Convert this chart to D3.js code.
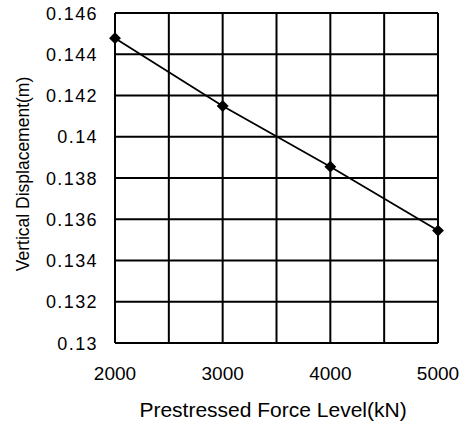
<!DOCTYPE html>
<html>
<head>
<meta charset="utf-8">
<script src="https://cdn.jsdelivr.net/npm/d3@7"></script>
<style>
  body { margin: 0; background: #fff; }
  text { font-family: "Liberation Sans", Arial, sans-serif; fill: #000; }
</style>
</head>
<body>
<div id="chart"></div>
<script>
// DATA
const forces = [2000, 3000, 4000, 5000];
const displacements = [0.14478, 0.14149, 0.13855, 0.13545];
const xTicks = [2000, 3000, 4000, 5000];
const xGrid = [2000, 2500, 3000, 3500, 4000, 4500, 5000];
const yTicks = [0.13, 0.132, 0.134, 0.136, 0.138, 0.14, 0.142, 0.144, 0.146];

function render() {
    const width  = 468;
    const height = 426;
    const margin = { top: 13, right: 30, bottom: 83, left: 115 };

    const svg = d3.select('#chart').append('svg')
        .attr('width', width)
        .attr('height', height);

    const x = d3.scaleLinear().domain([2000, 5000]).range([margin.left, width - margin.right]);
    const y = d3.scaleLinear().domain([0.13, 0.146]).range([height - margin.bottom, margin.top]);

    const grid = svg.append('g');

    grid.selectAll('line.h')
        .data(yTicks)
        .enter().append('line')
            .attr('class', 'h')
            .attr('x1', x(2000)).attr('x2', x(5000))
            .attr('y1', d => y(d)).attr('y2', d => y(d))
            .attr('stroke', '#000')
            .attr('stroke-width', 2);

    grid.selectAll('line.v')
        .data(xGrid)
        .enter().append('line')
            .attr('class', 'v')
            .attr('x1', d => x(d)).attr('x2', d => x(d))
            .attr('y1', y(0.13)).attr('y2', y(0.146))
            .attr('stroke', '#000')
            .attr('stroke-width', 2);

    // tick labels
    svg.append('g').selectAll('text')
        .data(yTicks)
        .enter().append('text')
            .attr('x', margin.left - 17)
            .attr('y', d => y(d) + 6.5)
            .attr('text-anchor', 'end')
            .style('font-size', '18px')
            .style('letter-spacing', '1.4px')
            .text(d => d3.format('')(+d.toFixed(3)));

    svg.append('g').selectAll('text')
        .data(xTicks)
        .enter().append('text')
            .attr('x', d => x(d))
            .attr('y', y(0.13) + 37)
            .attr('text-anchor', 'middle')
            .style('font-size', '19px')
            .text(d => d);

    // axis titles
    svg.append('text')
        .attr('x', 273)
        .attr('y', 417)
        .attr('text-anchor', 'middle')
        .style('font-size', '21px')
        .text('Prestressed Force Level(kN)');

    svg.append('text')
        .attr('transform', `translate(29,${(y(0.13) + y(0.146)) / 2 - 4}) rotate(-90)`)
        .attr('text-anchor', 'middle')
        .style('font-size', '17.5px')
        .text('Vertical Displacement(m)');

    // series
    const line = d3.line()
        .x((d, i) => x(forces[i]))
        .y(d => y(d));

    svg.append('path')
        .datum(displacements)
        .attr('d', line)
        .attr('fill', 'none')
        .attr('stroke', '#000')
        .attr('stroke-width', 1.8);

    const diamond = d3.symbol().type(d3.symbolDiamond2).size(90);

    svg.append('g').selectAll('path')
        .data(displacements)
        .enter().append('path')
            .attr('d', diamond)
            .attr('transform', (d, i) => `translate(${x(forces[i])},${y(d)})`)
            .attr('fill', '#000');
}

window.onload = render;
</script>
</body>
</html>
